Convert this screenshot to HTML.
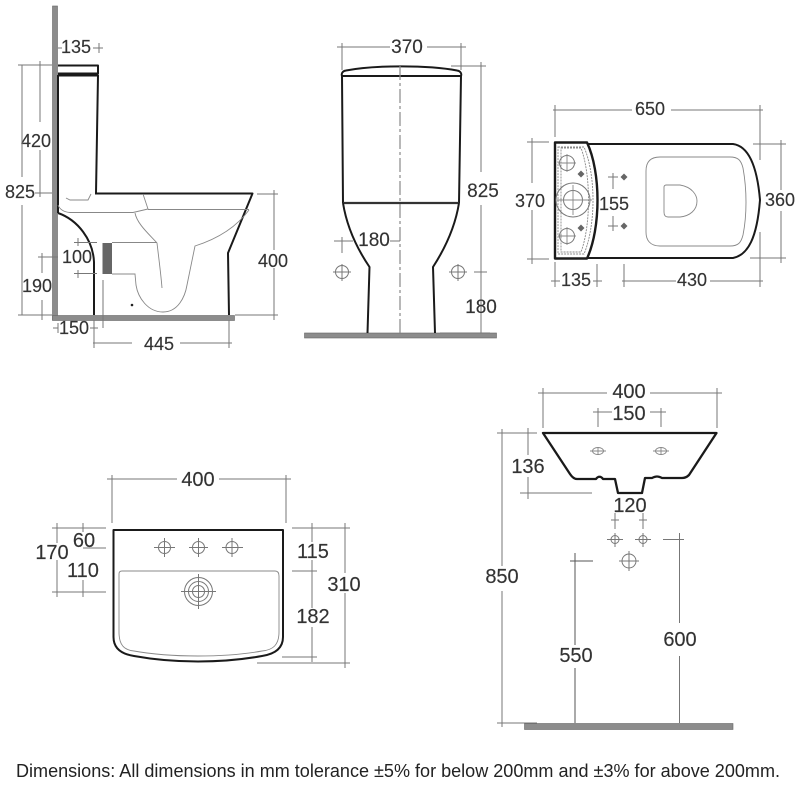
<!DOCTYPE html>
<html><head><meta charset="utf-8">
<style>
html,body{margin:0;padding:0;background:#fff}
svg{display:block}
text{font-family:"Liberation Sans",sans-serif;font-size:18px;fill:#333;text-anchor:middle;stroke:#333;stroke-width:.15}
.b text{font-size:20px}
.m text{font-size:19px}
.d{stroke:#777;stroke-width:1;fill:none}
.g{stroke:#888;stroke-width:.9;fill:none}
.k{stroke:#1a1a1a;stroke-width:2;fill:none;stroke-linejoin:round}
.f{fill:#8c8c8c;stroke:#666;stroke-width:.6}
</style></head><body>
<svg width="800" height="800" viewBox="0 0 800 800" xmlns="http://www.w3.org/2000/svg">
<!-- side view -->
<g>
<rect class="f" x="52.500" y="6" width="5" height="314"/>
<rect class="f" x="52.500" y="315.500" width="182" height="5"/>
<path class="k" d="M58 65.500H98V73.500H58"/>
<path class="k" d="M58 75.500H98L96 193"/>
<path class="k" d="M58 75V213M95 193.500H252.500L228 253L229 315"/>
<path class="k" d="M58 213C78 220 93 240 94 262V315"/>
<path class="g" d="M58 205C60 210 64 212 70 212.500L133 212.500L148 209L143 194"/>
<path class="g" d="M148 209.500H249M66 198L70 200H88L91 194"/>
<path class="g" d="M135 213C137 224 150 235 157 243C159 260 161 275 162 288"/>
<path class="g" d="M249 210C238 225 220 238 195 246L187 285C185 297 178 312 163 312C148 312 138 298 136 285L135 274H112"/>
<path class="g" d="M112 242.500H157"/>
<rect x="102.500" y="243" width="9.500" height="31" fill="#666"/>
<path class="d" d="M103 280V328M74 242.500H97M74 273.500H97M78 238V246M78 270V278"/>
<circle cx="132" cy="305" r="1.300" fill="#222"/>
<path class="d" d="M58 48H62M93 48H103M99 43V53"/>
<text x="76" y="53">135</text>
<path class="d" d="M18 65H52M40 61V122M40 150V197M35 193H52"/>
<text x="36" y="147">420</text>
<path class="d" d="M22 65V177M22 205V315M18 315H52"/>
<text x="20" y="198">825</text>
<path class="d" d="M38 257H58M42 253V273M42 300V320"/>
<text x="77" y="263">100</text>
<text x="37" y="292">190</text>
<path class="d" d="M53 328H58M58 323V333M90 328H98M94 323V333"/>
<text x="74" y="334">150</text>
<path class="d" d="M94 320V348M229 320V348M93 343H132M180 343H232"/>
<text x="159" y="350">445</text>
<path class="d" d="M257 194H278M274 190V250M274 268V320M235 315H278"/>
<text x="273" y="267">400</text>
</g>
<!-- front view -->
<g class="m">
<rect class="f" x="304.500" y="333" width="192" height="5"/>
<path class="k" d="M342 76C341 73 343 71 346 70.500C375 65 428 65 457 70.500C460 71 462 73 461 76Z"/>
<path class="k" d="M342 76L343 203M461 76L459 203"/>
<path d="M343 203H459" stroke="#333" stroke-width="2.200"/>
<path class="k" d="M343 203C347 228 358 250 369.500 267L367.500 333M459 203C455 228 444 250 433 267L435 333"/>
<path d="M400 66V333" stroke="#888" stroke-width="1.200" stroke-dasharray="14 3 3 3" fill="none"/>
<path class="d" d="M337 47H390M427 47H466M342 43V70M461 43V70"/>
<text x="407" y="53">370</text>
<path class="d" d="M451 66H486M481 62V172M481 205V333M440 333H490M474 272H487"/>
<text x="483" y="197">825</text>
<text x="481" y="313">180</text>
<path class="d" d="M334 241H353M342 237V253M390 241H400"/>
<text x="374" y="246">180</text>
<circle class="d" cx="342" cy="272" r="6.500"/>
<path class="d" d="M333 272H351M342 264V281"/>
<circle class="d" cx="458" cy="272" r="6.500"/>
<path class="d" d="M449 272H467M458 264V281"/>
</g>
<!-- top view -->
<g>
<path class="k" style="stroke-width:2.400" d="M555 142.500H587C601 172 601 228 587 258.500H555Z"/>
<path class="k" d="M587 144H733C748 146 757 165 760 200C757 238 748 255 733 258H587"/>
<path class="g" stroke-dasharray="2 1" d="M558 147H584C596 175 596 225 584 254H558Z"/>
<path class="g" stroke-dasharray="2 1" d="M561 148H581C591 175 591 225 581 252H561Z"/>
<path class="g" d="M660 157H730C738 157 741 160 743 168C747 190 747 215 743 235C741 243 738 246 730 246H660C650 246 646 240 646 232V171C646 162 650 157 660 157Z"/>
<path class="g" d="M666 185H680C692 187 697 195 697 201C697 210 690 216 680 217H668C665 217 664 215 664 212V187C664 186 665 185 666 185Z"/>
<circle class="d" cx="567" cy="163" r="7.500"/><path class="g" d="M558 163H576M567 154V172"/>
<circle class="d" cx="567" cy="236" r="7.500"/><path class="g" d="M558 236H576M567 227V245"/>
<circle class="d" cx="573" cy="200" r="17"/><circle class="d" cx="573" cy="200" r="9.500"/>
<path class="g" d="M557 200H592M573 185V215"/>
<path d="M581 170.500l3.500 3.500-3.500 3.500-3.500-3.500zM581 224.500l3.500 3.500-3.500 3.500-3.500-3.500zM624 173.500l3.500 3.500-3.500 3.500-3.500-3.500zM624 222.500l3.500 3.500-3.500 3.500-3.500-3.500z" fill="#666"/>
<path class="d" d="M608 177H618M613 173V189M608 226H618M613 216V231"/>
<text x="614" y="210">155</text>
<path class="d" d="M553 110H632M671 110H763M555 105V137M760 105V160"/>
<text x="650" y="115">650</text>
<path class="d" d="M527 142H549M532 138V183M532 210V264M527 259H549"/>
<text x="530" y="207">370</text>
<path class="d" d="M753 144H786M781 140V190M781 211V263M750 258H786"/>
<text x="780" y="206">360</text>
<path class="d" d="M551 281H560M555 262V287M593 281H602M597 264V287M624 264V287M622 281H676M710 281H763M760 232V287"/>
<text x="576" y="286">135</text>
<text x="692" y="286">430</text>
</g>
<!-- basin top view -->
<g class="b">
<path class="k" d="M113.500 530H283V637C283 648 275 654 262 656C240 660 220 661.500 198 661.500C176 661.500 156 660 134 656C121 654 113.500 648 113.500 637Z"/>
<path class="g" d="M122 571H275C278 571 279 573 279 576V632C279 645 273 650 262 651C240 655 218 656 198 656C176 656 156 655 134 651C124 650 119 645 119 632V574C119 572 120 571 122 571Z"/>
<circle class="d" cx="164.500" cy="547.500" r="6"/><path class="d" d="M154 547.500H175M164.500 538V557"/>
<circle class="d" cx="198.500" cy="547.500" r="6"/><path class="d" d="M189 547.500H208M198.500 538V557"/>
<circle class="d" cx="232" cy="547.500" r="6"/><path class="d" d="M222 547.500H243M232 538V557"/>
<circle class="d" cx="198.500" cy="591.500" r="14"/><circle class="d" cx="198.500" cy="591.500" r="10"/><circle class="d" cx="198.500" cy="591.500" r="6"/>
<path class="d" d="M181 591.500H216M198.500 574V609"/>
<path class="d" d="M107 479H177M219 479H291M112 475V523M286 475V523"/>
<text x="198" y="486">400</text>
<path class="d" d="M52 528H106M57 523V543M57 560V597M52 592H106M83 523V532M83 580V597M83 548H106"/>
<text x="52" y="559">170</text>
<text x="84" y="547">60</text>
<text x="83" y="577">110</text>
<path class="d" d="M292 528H350M312 523V542M312 560V608M312 627V662M292 571H317M282 657H317M257 663H350M345 523V573M345 593V668"/>
<text x="313" y="558">115</text>
<text x="313" y="623">182</text>
<text x="344" y="591">310</text>
</g>
<!-- basin front view -->
<g class="b">
<path class="k" style="stroke-width:2.300" d="M543 433H716.500L689 475C687 477 685 478 682 478H662C658 476 656 476 652 478H645L642 493H618L615 479H603C601 476 598 476 596 479H577C574 479 572 477 570 474Z"/>
<ellipse class="g" cx="598" cy="451" rx="5.500" ry="3.500"/><path class="g" d="M590 451H606M598 447V455"/>
<ellipse class="g" cx="661" cy="451" rx="5.500" ry="3.500"/><path class="g" d="M653 451H669M661 447V455"/>
<path class="d" d="M538 393H607M650 393H722M543 388V428M717 388V428"/>
<text x="629" y="398">400</text>
<path class="d" d="M593 412H612M650 412H666M598 408V427M661 408V427"/>
<text x="629" y="420">150</text>
<path class="d" d="M497 433H537M502 429V566M502 591V727M497 723H537M528 428V455M528 477V499M520 493H592"/>
<text x="502" y="583">850</text>
<text x="528" y="473">136</text>
<text x="630" y="512">120</text>
<path class="d" d="M615 513V529M643 513V529M611 520H619M639 520H647"/>
<circle class="d" cx="615" cy="539.500" r="4"/><path class="d" d="M607 539.500H623M615 533V547"/>
<circle class="d" cx="643" cy="539.500" r="4"/><path class="d" d="M635 539.500H651M643 533V547"/>
<circle class="d" cx="629" cy="561" r="7"/><path class="d" d="M619 561H639M629 551V571"/>
<rect class="f" x="524.500" y="723.500" width="208.500" height="6"/>
<path d="M575 553V645M575 668V723M570 561H593" stroke="#555" stroke-width="1" fill="none"/>
<path class="d" d="M679.500 533V623M679.500 656V723M663 539.500H684"/>
<text x="576" y="662">550</text>
<text x="680" y="646">600</text>
</g>
<text x="398" y="777" textLength="764" lengthAdjust="spacingAndGlyphs" style="font-size:18.500px;fill:#222;stroke:none">Dimensions: All dimensions in mm tolerance ±5% for below 200mm and ±3% for above 200mm.</text>
</svg>
</body></html>
